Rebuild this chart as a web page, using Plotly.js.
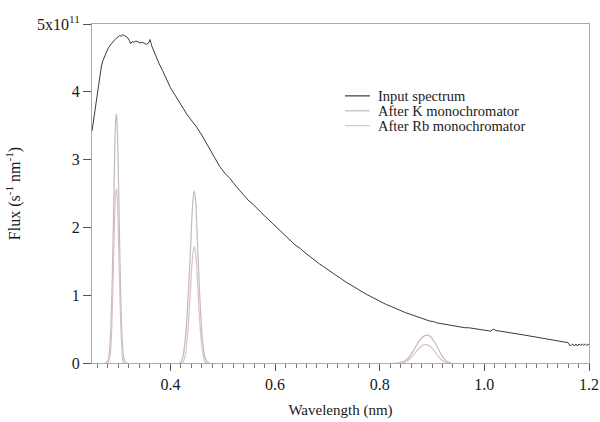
<!DOCTYPE html>
<html>
<head>
<meta charset="utf-8">
<script src="https://cdn.plot.ly/plotly-3.0.1.min.js"></script>
<style>html,body{margin:0;padding:0;background:#fff;}#chart{width:600px;height:422px;}</style>
</head>
<body>
<div id="chart"></div>
<script>
// Input spectrum (wavelength nm, flux in units of 1e11 s^-1 nm^-1)
const inputWl = [0.250,0.253,0.256,0.259,0.262,0.265,0.268,0.271,0.275,0.280,0.285,0.290,0.295,0.300,0.303,0.306,0.309,0.312,0.315,0.318,0.321,0.324,0.327,0.330,0.334,0.338,0.342,0.346,0.350,0.354,0.358,0.361,0.364,0.368,0.372,0.378,0.385,0.392,0.400,0.408,0.415,0.424,0.432,0.440,0.450,0.460,0.470,0.482,0.494,0.505,0.514,0.525,0.538,0.550,0.558,0.565,0.572,0.580,0.588,0.595,0.603,0.610,0.618,0.625,0.633,0.640,0.648,0.655,0.663,0.670,0.678,0.685,0.693,0.700,0.708,0.715,0.723,0.730,0.738,0.745,0.753,0.760,0.768,0.775,0.783,0.790,0.798,0.805,0.813,0.820,0.828,0.835,0.843,0.850,0.858,0.865,0.873,0.880,0.888,0.895,0.903,0.910,0.918,0.925,0.933,0.940,0.948,0.955,0.963,0.970,0.978,0.985,0.993,1.000,1.006,1.012,1.017,1.022,1.030,1.040,1.048,1.055,1.063,1.070,1.078,1.085,1.093,1.100,1.108,1.115,1.123,1.130,1.138,1.145,1.150,1.155,1.160,1.163,1.166,1.169,1.172,1.175,1.178,1.181,1.184,1.187,1.190,1.193,1.196,1.200];
const inputFlux = [3.42,3.58,3.76,3.93,4.10,4.26,4.38,4.46,4.55,4.63,4.69,4.74,4.78,4.81,4.83,4.82,4.84,4.83,4.82,4.80,4.76,4.71,4.74,4.73,4.75,4.73,4.72,4.73,4.71,4.70,4.72,4.77,4.68,4.60,4.52,4.42,4.31,4.18,4.06,3.96,3.88,3.76,3.66,3.58,3.48,3.36,3.22,3.05,2.90,2.79,2.72,2.61,2.50,2.39,2.34,2.28,2.23,2.17,2.11,2.05,2.00,1.94,1.89,1.84,1.78,1.73,1.69,1.64,1.59,1.55,1.50,1.46,1.42,1.38,1.33,1.30,1.26,1.22,1.18,1.15,1.11,1.08,1.04,1.01,0.98,0.95,0.92,0.89,0.86,0.84,0.81,0.79,0.76,0.74,0.72,0.70,0.68,0.66,0.64,0.62,0.61,0.59,0.58,0.57,0.56,0.55,0.54,0.53,0.52,0.52,0.51,0.50,0.49,0.48,0.47,0.47,0.50,0.48,0.47,0.46,0.45,0.44,0.43,0.42,0.41,0.40,0.39,0.38,0.37,0.36,0.35,0.34,0.33,0.32,0.31,0.31,0.30,0.26,0.26,0.28,0.25,0.28,0.25,0.28,0.26,0.28,0.26,0.28,0.26,0.28,0.26,0.27];

// After K monochromator
const kWl = [0.276,0.281,0.285,0.288,0.291,0.293,0.295,0.297,0.299,0.301,0.304,0.307,0.311,0.316,
             0.418,0.424,0.430,0.435,0.439,0.442,0.445,0.448,0.451,0.455,0.460,0.466,0.473,
             0.835,0.845,0.855,0.865,0.875,0.885,0.891,0.897,0.907,0.917,0.927,0.937];
const kFlux = [0,0.04,0.35,1.00,2.10,2.95,3.55,3.68,3.30,2.55,1.30,0.45,0.06,0,
               0,0.10,0.50,1.15,1.80,2.30,2.54,2.40,1.90,1.15,0.45,0.08,0,
               0,0.02,0.08,0.19,0.32,0.40,0.41,0.39,0.28,0.13,0.03,0];

// After Rb monochromator
const rbWl = [0.281,0.285,0.288,0.291,0.293,0.295,0.297,0.299,0.301,0.304,0.307,0.311,
              0.422,0.428,0.434,0.438,0.441,0.444,0.446,0.449,0.452,0.456,0.461,0.468,
              0.842,0.852,0.862,0.872,0.882,0.889,0.896,0.905,0.915,0.925,0.932];
const rbFlux = [0,0.12,0.55,1.40,2.05,2.48,2.58,2.30,1.70,0.80,0.22,0,
                0,0.10,0.55,1.05,1.45,1.68,1.72,1.55,1.15,0.60,0.18,0,
                0,0.03,0.10,0.19,0.26,0.27,0.25,0.17,0.07,0.01,0];

const xTickVals = [0.4,0.6,0.8,1.0,1.2];
const xTickText = ['0.4','0.6','0.8','1.0','1.2'];
const yTickVals = [0,1,2,3,4,5];
const yTickText = ['0','1','2','3','4','5x10<sup>11</sup>'];
const seriesNames = ['Input spectrum','After K monochromator','After Rb monochromator'];
const seriesColors = ['#3a3a3a','#c4baba','#dcc2c6'];
const scale = 1e11;

const toFlux = a => a.map(v => v*scale);

const traces = [
  {x: inputWl, y: toFlux(inputFlux), name: seriesNames[0], type: 'scatter', mode: 'lines',
   line: {color: seriesColors[0], width: 1}},
  {x: kWl, y: toFlux(kFlux), name: seriesNames[1], type: 'scatter', mode: 'lines',
   line: {color: seriesColors[1], width: 1.2, shape: 'spline', smoothing: 0.6}},
  {x: rbWl, y: toFlux(rbFlux), name: seriesNames[2], type: 'scatter', mode: 'lines',
   line: {color: seriesColors[2], width: 1.2, shape: 'spline', smoothing: 0.6}}
];

const serif = 'Liberation Serif, Times New Roman, serif';

// Compact legend (rows about 15 px apart, as in the reference)
const legendRowsY = [0.788, 0.744, 0.700];
const legendShapes = seriesNames.map((n, i) => ({
  type: 'line', xref: 'paper', yref: 'paper', x0: 0.509, x1: 0.559,
  y0: legendRowsY[i], y1: legendRowsY[i], line: {color: seriesColors[i], width: 1.2}
}));
const legendLabels = seriesNames.map((n, i) => ({
  xref: 'paper', yref: 'paper', x: 0.575, y: legendRowsY[i], xanchor: 'left', yanchor: 'middle',
  text: n, showarrow: false, borderpad: 0, borderwidth: 0,
  font: {family: serif, size: 14.5, color: '#1a1a1a'}
}));

const layout = {
  width: 600, height: 422,
  margin: {l: 92, r: 11, t: 24, b: 59},
  paper_bgcolor: '#fff', plot_bgcolor: '#fff',
  font: {family: serif, color: '#1a1a1a', size: 15},
  showlegend: false,
  shapes: legendShapes,
  annotations: legendLabels,
  xaxis: {
    range: [0.25, 1.2], showgrid: false, zeroline: false,
    showline: true, linecolor: '#aaaaaa', linewidth: 1, mirror: true,
    ticks: 'outside', ticklen: 7, tickcolor: '#555', tickwidth: 1,
    tickvals: xTickVals, ticktext: xTickText,
    tickfont: {family: serif, size: 16, color: '#1a1a1a'},
    minor: {dtick: 0.02, tick0: 0, ticks: 'outside', ticklen: 4, tickcolor: '#777'},
    title: {text: 'Wavelength (nm)', font: {family: serif, size: 15, color: '#1a1a1a'}, standoff: 12}
  },
  yaxis: {
    range: [0, 5*scale], showgrid: false, zeroline: false,
    showline: true, linecolor: '#aaaaaa', linewidth: 1, mirror: true,
    ticks: 'outside', ticklen: 8, tickcolor: '#555', tickwidth: 1,
    tickvals: yTickVals.map(v=>v*scale), ticktext: yTickText,
    tickfont: {family: serif, size: 16, color: '#1a1a1a'},
    title: {text: 'Flux (s<sup>-1</sup> nm<sup>-1</sup>)', font: {family: serif, size: 16, color: '#1a1a1a'}, standoff: 12}
  }
};

Plotly.newPlot('chart', traces, layout, {staticPlot: true, displayModeBar: false});
</script>
</body>
</html>
